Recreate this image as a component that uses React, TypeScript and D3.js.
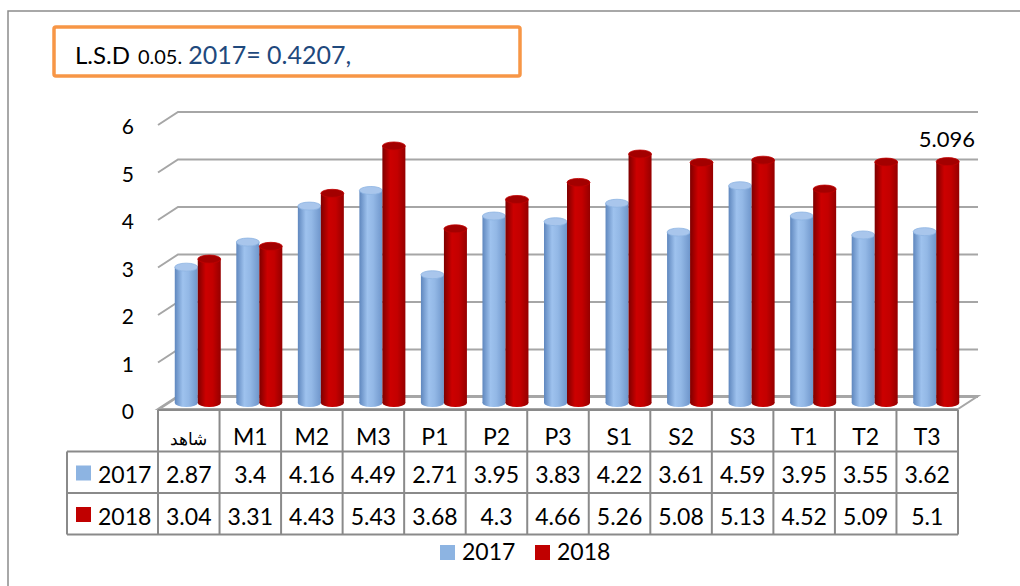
import React from "react";
import * as d3 from "d3";

const categories = ["شاهد", "M1", "M2", "M3", "P1", "P2", "P3", "S1", "S2", "S3", "T1", "T2", "T3"];
const values2017 = [2.87, 3.4, 4.16, 4.49, 2.71, 3.95, 3.83, 4.22, 3.61, 4.59, 3.95, 3.55, 3.62];
const values2018 = [3.04, 3.31, 4.43, 5.43, 3.68, 4.3, 4.66, 5.26, 5.08, 5.13, 4.52, 5.09, 5.1];
const seriesNames = ["2017", "2018"];
const yTicks = [0, 1, 2, 3, 4, 5, 6];
const annotationText = "5.096";
const annotationValue = 5;
const titleMain = "L.S.D";
const titleSub = "0.05.";
const titleValue = "2017= 0.4207,";

const FONT = "Lato, 'DejaVu Sans', sans-serif";

export default function App() {
  const W = 1020, H = 586;
  const frontX0 = 158, frontX1 = 958;
  const depthDx = 20, depthDy = -13;
  const yBack = d3.scaleLinear().domain([0, 6]).range([397, 112]);
  const yMid = d3.scaleLinear().domain([0, 6]).range([403, 119]);
  const xBand = d3.scaleBand<string>().domain(categories).range([frontX0, frontX1]);
  const bw = xBand.bandwidth();
  const inner = d3.scaleBand<string>().domain(seriesNames).range([-24, 22]);
  const colors = ["#8DB4E2", "#C00000"];
  const grads = ["gBlue", "gRed"];
  const topFill = ["#A9C6EC", "#A30000"];
  const ry = 4;

  const tableTop = 410, rowH = 41.5;
  const tableLeft = 67;
  const rows = [values2017, values2018];

  return (
    <svg width={W} height={H} style={{ position: "absolute", left: 0, top: 0 }}>
      <defs>
        <linearGradient id="gBlue" x1="0" x2="1" y1="0" y2="0">
          <stop offset="0" stopColor="#5F87BE" />
          <stop offset="0.35" stopColor="#9EC2EE" />
          <stop offset="0.6" stopColor="#93B8E6" />
          <stop offset="1" stopColor="#6F96CB" />
        </linearGradient>
        <linearGradient id="gRed" x1="0" x2="1" y1="0" y2="0">
          <stop offset="0" stopColor="#7E0000" />
          <stop offset="0.35" stopColor="#CC0000" />
          <stop offset="0.65" stopColor="#C30000" />
          <stop offset="1" stopColor="#950000" />
        </linearGradient>
      </defs>
      <rect x={0} y={0} width={W} height={H} fill="#fff" />
      {/* outer frame */}
      <path d={`M8,${H} L8,11 L${W},11`} fill="none" stroke="#8C8C8C" strokeWidth={1.5} />

      {/* title box */}
      <rect x={54} y={27} width={466} height={49} rx={2} fill="#fff" stroke="#F79646" strokeWidth={3.5} />
      <text x={75} y={64} fontFamily={FONT} fontSize={24} fill="#000">
        {titleMain}
        <tspan fontSize={20} dx={8}>{titleSub}</tspan>
        <tspan fill="#1F497D" fontSize={25} dx={6}>{titleValue}</tspan>
      </text>

      {/* floor */}
      <path
        d={`M${frontX0},409 L${frontX1},409 L${frontX1 + depthDx},${409 + depthDy} L${frontX0 + depthDx},${409 + depthDy} Z`}
        fill="#fff" stroke="#A6A6A6" strokeWidth={2} />

      {/* gridlines */}
      {yTicks.map((t) => {
        const yb = yBack(t);
        return (
          <g key={t}>
            <path d={`M${frontX0},${yb - depthDy} L${frontX0 + depthDx},${yb} L${frontX1 + depthDx},${yb}`}
              fill="none" stroke="#A6A6A6" strokeWidth={2} />
            <text x={134} y={yb - depthDy + 4} fontFamily={FONT} fontSize={21} textAnchor="end"
              dominantBaseline="middle" fill="#000">{t}</text>
          </g>
        );
      })}

      {/* bars */}
      {categories.map((c, i) => {
        const cx = (xBand(c) as number) + bw / 2 + depthDx / 2;
        return (
          <g key={c}>
            {rows.map((vals, s) => {
              const x0 = cx + (inner(seriesNames[s]) as number);
              const w = inner.bandwidth();
              const yt = yMid(vals[i]);
              const yb = yMid(0);
              return (
                <g key={s}>
                  <ellipse cx={x0 + w / 2} cy={yb} rx={w / 2} ry={ry} fill={`url(#${grads[s]})`} />
                  <rect x={x0} y={yt} width={w} height={yb - yt} fill={`url(#${grads[s]})`} />
                  <ellipse cx={x0 + w / 2} cy={yt} rx={w / 2} ry={ry} fill={topFill[s]}
                    stroke={colors[s]} strokeWidth={0.8} />
                </g>
              );
            })}
          </g>
        );
      })}

      {/* annotation */}
      <text x={frontX1 + depthDx - 3} y={yBack(annotationValue) - 13} fontFamily={FONT} fontSize={22}
        textAnchor="end" fill="#000">{annotationText}</text>

      {/* data table */}
      <g stroke="#8A8A8A" strokeWidth={2} fill="none">
        <line x1={frontX0} x2={frontX1} y1={tableTop} y2={tableTop} />
        <line x1={tableLeft} x2={frontX1} y1={tableTop + rowH} y2={tableTop + rowH} />
        <line x1={tableLeft} x2={frontX1} y1={tableTop + 2 * rowH} y2={tableTop + 2 * rowH} />
        <line x1={tableLeft} x2={frontX1} y1={tableTop + 3 * rowH} y2={tableTop + 3 * rowH} />
        <line x1={tableLeft} x2={tableLeft} y1={tableTop + rowH} y2={tableTop + 3 * rowH} />
        {categories.map((c) => (
          <line key={c} x1={xBand(c) as number} x2={xBand(c) as number} y1={tableTop} y2={tableTop + 3 * rowH} />
        ))}
        <line x1={frontX1} x2={frontX1} y1={tableTop} y2={tableTop + 3 * rowH} />
      </g>
      {categories.map((c, i) => (
        <text key={c} x={(xBand(c) as number) + bw / 2} y={tableTop + rowH - 7} fontFamily={FONT}
          fontSize={i === 0 ? 17 : 23} fontWeight={i === 0 ? 300 : 400} textAnchor="middle" fill="#000">{c}</text>
      ))}
      {rows.map((vals, s) => (
        <g key={s}>
          <rect x={76} y={tableTop + rowH * (s + 1) + 14} width={15} height={15} fill={colors[s]} />
          <text x={98} y={tableTop + rowH * (s + 2) - 10} fontFamily={FONT} fontSize={23} fill="#000">
            {seriesNames[s]}
          </text>
          {vals.map((v, i) => (
            <text key={i} x={(xBand(categories[i]) as number) + bw / 2} y={tableTop + rowH * (s + 2) - 10}
              fontFamily={FONT} fontSize={23} textAnchor="middle" fill="#000">{String(v)}</text>
          ))}
        </g>
      ))}

      {/* legend */}
      {seriesNames.map((n, s) => (
        <g key={n} transform={`translate(${440 + s * 95},545)`}>
          <rect x={0} y={0} width={15} height={15} fill={colors[s]} />
          <text x={22} y={15} fontFamily={FONT} fontSize={23} fill="#000">{n}</text>
        </g>
      ))}
    </svg>
  );
}
